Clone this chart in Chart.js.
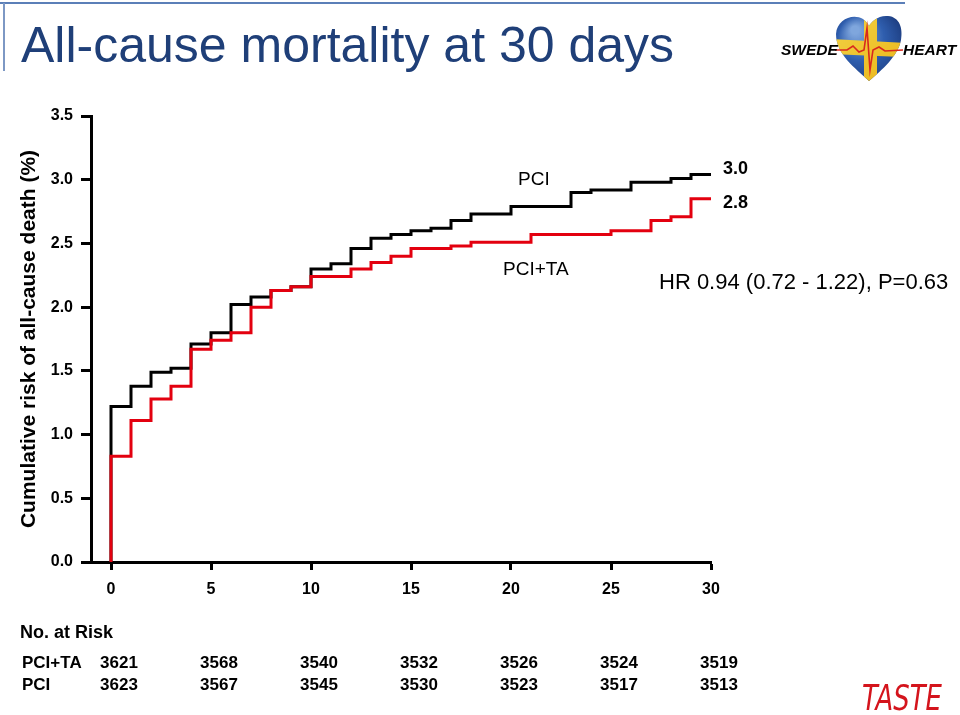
<!DOCTYPE html>
<html><head><meta charset="utf-8">
<script src="https://cdn.jsdelivr.net/npm/chart.js@4.4.1/dist/chart.umd.min.js"></script>
<style>
html,body{margin:0;padding:0;background:#fff;}
#wrap{position:relative;width:960px;height:715px;overflow:hidden;font-family:"Liberation Sans",Arial,sans-serif;background:#fff;}
#c{position:absolute;left:0;top:0;}
.t{position:absolute;white-space:nowrap;line-height:1;color:#000;}
#topline{position:absolute;left:0;top:2px;width:905px;height:2px;background:#5b7fb8;}
#leftline{position:absolute;left:3px;top:3px;width:2px;height:68px;background:#7d98c4;}
#heart{position:absolute;left:833px;top:12px;}
</style></head><body>
<div id="wrap">
<div id="topline"></div><div id="leftline"></div>
<canvas id="c" width="960" height="715"></canvas>
<canvas id="heart" width="72" height="72"></canvas>
</div>
<script>
// ---- data ----
const xTickValues = [0, 5, 10, 15, 20, 25, 30];
const yTickValues = [0, 0.5, 1.0, 1.5, 2.0, 2.5, 3.0, 3.5];
const pciTaDays = [0, 0, 1, 2, 3, 4, 5, 6, 7, 8, 9, 10, 12, 13, 14, 15, 17, 18, 21, 25, 27, 28, 29, 30];
const pciTaRisk = [0, 0.83, 1.11, 1.28, 1.38, 1.67, 1.74, 1.80, 2.00, 2.13, 2.16, 2.24, 2.30, 2.35, 2.40, 2.46, 2.48, 2.51, 2.57, 2.60, 2.68, 2.71, 2.85, 2.85];
const pciDays = [0, 0, 1, 2, 3, 4, 5, 6, 7, 8, 9, 10, 11, 12, 13, 14, 15, 16, 17, 18, 20, 23, 24, 26, 28, 29, 30];
const pciRisk = [0, 1.22, 1.38, 1.49, 1.52, 1.71, 1.80, 2.02, 2.08, 2.13, 2.16, 2.30, 2.34, 2.46, 2.54, 2.57, 2.60, 2.62, 2.68, 2.73, 2.79, 2.90, 2.92, 2.98, 3.01, 3.04, 3.04];
const riskDays = [0, 5, 10, 15, 20, 25, 30];
const riskPciTa = [3621, 3568, 3540, 3532, 3526, 3524, 3519];
const riskPci = [3623, 3567, 3545, 3530, 3523, 3517, 3513];
const seriesNames = ['PCI+TA', 'PCI'];
const endLabels = ['2.8', '3.0'];

const FONT = '"Liberation Sans", Arial, sans-serif';
const toPts = (xs, ys) => xs.map((x, i) => ({x: x, y: ys[i]}));

const chart = new Chart(document.getElementById('c'), {
  type: 'line',
  data: {
    datasets: [
      {label: seriesNames[0], data: toPts(pciTaDays, pciTaRisk), borderColor: '#e3000f', borderWidth: 3, stepped: 'before', pointRadius: 0, fill: false},
      {label: seriesNames[1], data: toPts(pciDays, pciRisk), borderColor: '#000000', borderWidth: 3, stepped: 'before', pointRadius: 0, fill: false}
    ]
  },
  options: {
    responsive: false,
    animation: false,
    layout: {padding: {left: 17, top: 116, right: 249, bottom: 113}},
    plugins: {legend: {display: false}, tooltip: {enabled: false}},
    scales: {
      x: {
        type: 'linear', min: -1, max: 30,
        afterBuildTicks: s => { s.ticks = xTickValues.map(v => ({value: v})); },
        afterFit: s => { s.height = 40; },
        grid: {drawOnChartArea: false, drawTicks: true, tickLength: 8, tickWidth: 3, tickColor: '#000'},
        border: {display: true, color: '#000', width: 3},
        ticks: {color: '#000', padding: 10, maxRotation: 0, font: {family: FONT, size: 16, weight: 'bold'}}
      },
      y: {
        type: 'linear', min: 0, max: 3.5,
        afterBuildTicks: s => { s.ticks = yTickValues.map(v => ({value: v})); },
        afterFit: s => { s.width = 74; },
        grid: {drawOnChartArea: false, drawTicks: true, tickLength: 10, tickWidth: 3, tickColor: '#000'},
        border: {display: true, color: '#000', width: 3},
        ticks: {color: '#000', padding: 8, font: {family: FONT, size: 16, weight: 'bold'}, callback: v => Number(v).toFixed(1)},
        title: {display: true, text: 'Cumulative risk of all-cause death (%)', color: '#000', padding: 0, font: {family: FONT, size: 21, weight: 'bold'}}
      }
    }
  }
});

// ---- HTML text ----
const wrap = document.getElementById('wrap');
function txt(s, x, yc, size, opts) {
  opts = opts || {};
  const d = document.createElement('div');
  d.className = 't';
  d.textContent = s;
  d.style.fontSize = size + 'px';
  d.style.fontWeight = opts.bold ? 'bold' : 'normal';
  if (opts.italic) d.style.fontStyle = 'italic';
  if (opts.color) d.style.color = opts.color;
  if (opts.family) d.style.fontFamily = opts.family;
  d.style.top = (yc - 0.49 * size) + 'px';
  d.style.left = x + 'px';
  let tr = '';
  if (opts.align === 'center') tr += 'translateX(-50%) ';
  if (opts.align === 'right') tr += 'translateX(-100%) ';
  if (opts.sx) { tr += 'scaleX(' + opts.sx + ')'; d.style.transformOrigin = 'left center'; }
  if (tr) d.style.transform = tr;
  wrap.appendChild(d);
  return d;
}
txt('All-cause mortality at 30 days', 21, 44, 50, {color: '#1f3f78'});
txt('SWEDE', 781, 50, 15.5, {bold: true, italic: true});
txt('HEART', 903, 50, 15.5, {bold: true, italic: true});
txt('PCI', 518, 178, 19);
txt('PCI+TA', 503, 268, 19);
txt(endLabels[1], 723, 168, 18, {bold: true});
txt(endLabels[0], 723, 202, 18, {bold: true});
txt('HR 0.94 (0.72 - 1.22), P=0.63', 659, 282, 22);
txt('No. at Risk', 20, 632, 18, {bold: true});
txt(seriesNames[0], 22, 662, 17, {bold: true});
txt(seriesNames[1], 22, 684, 17, {bold: true});
const xs = chart.scales.x;
riskDays.forEach((d, i) => {
  const px = xs.getPixelForValue(d) + 8;
  txt(String(riskPciTa[i]), px, 662, 17, {bold: true, align: 'center'});
  txt(String(riskPci[i]), px, 684, 17, {bold: true, align: 'center'});
});
txt('TASTE', 862, 698, 36, {italic: true, color: '#d4141c', family: '"DejaVu Sans", sans-serif', sx: 0.72});

// ---- heart logo ----
(function () {
  const c = document.getElementById('heart').getContext('2d');
  function heart() {
    c.beginPath();
    c.moveTo(36, 69);
    c.bezierCurveTo(22, 56, 3, 42, 3, 22);
    c.bezierCurveTo(4, 7, 20, 1, 30, 7);
    c.bezierCurveTo(33, 9, 35, 12, 36, 14);
    c.bezierCurveTo(38, 10, 45, 3, 55, 4);
    c.bezierCurveTo(67, 5, 70, 17, 68, 28);
    c.bezierCurveTo(65, 44, 49, 58, 36, 69);
    c.closePath();
  }
  c.save();
  heart();
  const g = c.createRadialGradient(22, 18, 4, 34, 34, 42);
  g.addColorStop(0, '#7fa6dd');
  g.addColorStop(0.5, '#2f5eae');
  g.addColorStop(1, '#1b3a7c');
  c.fillStyle = g;
  c.fill();
  c.clip();
  const yg = c.createLinearGradient(0, 0, 72, 72);
  yg.addColorStop(0, '#f3d447');
  yg.addColorStop(1, '#e9b418');
  c.fillStyle = yg;
  c.fillRect(31, 0, 13, 72);
  c.beginPath();
  c.moveTo(0, 27); c.lineTo(72, 31); c.lineTo(72, 45); c.lineTo(0, 42); c.closePath();
  c.fill();
  c.restore();
  c.strokeStyle = '#d8281e';
  c.lineWidth = 1.6;
  c.beginPath();
  c.moveTo(2, 38); c.lineTo(14, 38); c.lineTo(20, 34); c.lineTo(26, 40); c.lineTo(31, 38);
  c.lineTo(34, 16); c.lineTo(37, 58); c.lineTo(40, 38); c.lineTo(46, 35); c.lineTo(52, 39); c.lineTo(70, 38);
  c.stroke();
})();
</script>
</body></html>
